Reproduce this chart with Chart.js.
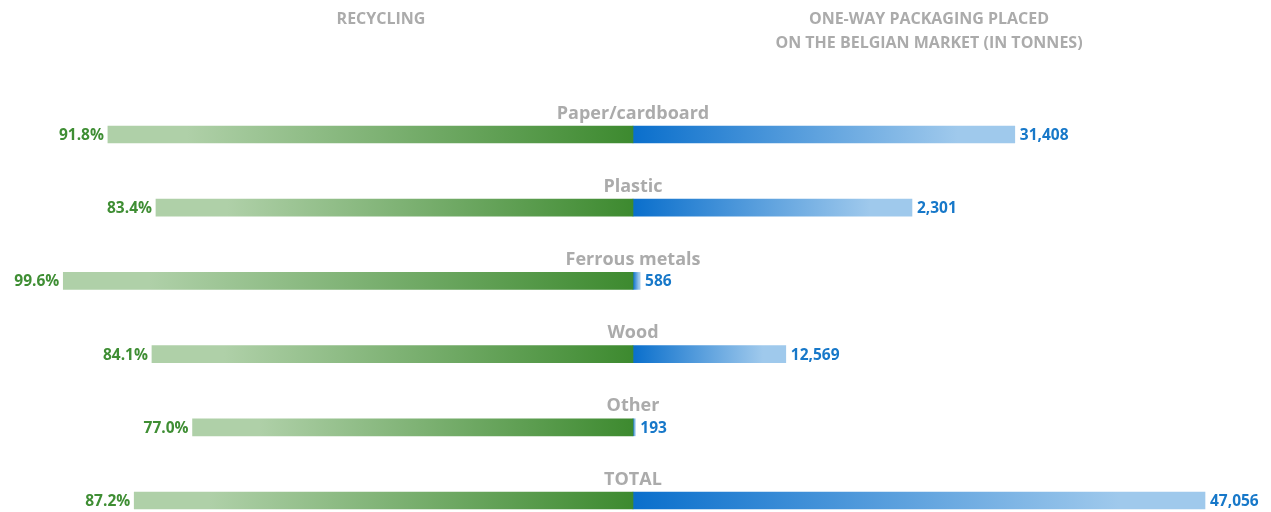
<!DOCTYPE html>
<html>
<head>
<meta charset="utf-8">
<script src="https://cdn.jsdelivr.net/npm/chart.js@4"></script>
<style>
  html, body { margin: 0; padding: 0; background: #ffffff; }
  #wrap { position: relative; width: 1271px; height: 512px; }
</style>
</head>
<body>
<div id="wrap"><canvas id="packagingChart" width="1271" height="512"></canvas></div>
<script>
// Chart data
const categories = ['Paper/cardboard', 'Plastic', 'Ferrous metals', 'Wood', 'Other', 'TOTAL'];
const recyclingPct = [91.8, 83.4, 99.6, 84.1, 77.0, 87.2];
// tonnes as printed next to the bars
const tonnesLabel = [31408, 2301, 586, 12569, 193, 47056];
// tonnes as the bars are drawn (plastic bar is drawn much longer than its label in the source)
const tonnesBar = [31408, 22950, 586, 12569, 193, 47056];
const tonnesMax = 47056;

const GREEN_DARK = '#3d8a2f', GREEN_LIGHT = '#afd0a8', GREEN_TEXT = '#3f8e34';
const BLUE_DARK = '#0a6fcc', BLUE_LIGHT = '#9fc9ec', BLUE_TEXT = '#1778c9';
const GREY = '#ababab';
const FONT = '"Open Sans", Lato, sans-serif';

function barGradient(ctx, axisId, dark, light) {
    const chart = ctx.chart;
    if (!chart.chartArea || ctx.raw === undefined) return dark;
    const scale = chart.scales[axisId];
    const x0 = scale.getPixelForValue(0);
    const x1 = scale.getPixelForValue(ctx.raw);
    if (Math.abs(x1 - x0) < 1) return dark;
    const g = chart.ctx.createLinearGradient(x0, 0, x1, 0);
    g.addColorStop(0, dark);
    g.addColorStop(0.85, light);
    g.addColorStop(1, light);
    return g;
}

const labelPlugin = {
    id: 'butterflyLabels',
    afterDatasetsDraw(chart) {
        const c = chart.ctx;
        const left = chart.getDatasetMeta(0).data;
        const right = chart.getDatasetMeta(1).data;
        const mid = chart.scales.xl.getPixelForValue(0);
        c.save();
        c.textBaseline = 'middle';
        categories.forEach((cat, i) => {
            const y = left[i].y;
            c.font = 'bold 18px ' + FONT;
            c.fillStyle = GREY;
            c.textAlign = 'center';
            c.fillText(cat, mid, y - 21);

            c.font = 'bold 15.5px ' + FONT;
            c.fillStyle = GREEN_TEXT;
            c.textAlign = 'right';
            c.fillText(recyclingPct[i].toFixed(1) + '%', left[i].x - 4, y + 1);

            c.fillStyle = BLUE_TEXT;
            c.textAlign = 'left';
            c.fillText(tonnesLabel[i].toLocaleString('en-US'), right[i].x + 5, y + 1);
        });
        // column headers
        c.font = 'bold 16px ' + FONT;
        c.fillStyle = GREY;
        c.textAlign = 'center';
        c.fillText('RECYCLING', 381, 19);
        c.fillText('ONE-WAY PACKAGING PLACED', 929, 19);
        c.fillText('ON THE BELGIAN MARKET (IN TONNES)', 929, 43);
        c.restore();
    }
};

new Chart(document.getElementById('packagingChart').getContext('2d'), {
    type: 'bar',
    data: {
        labels: categories,
        datasets: [
            {
                label: 'Recycling',
                data: recyclingPct.map(v => -v),
                xAxisID: 'xl',
                backgroundColor: ctx => barGradient(ctx, 'xl', GREEN_DARK, GREEN_LIGHT),
                barThickness: 17,
                grouped: false,
                clip: false
            },
            {
                label: 'Tonnes',
                data: tonnesBar,
                xAxisID: 'xr',
                backgroundColor: ctx => barGradient(ctx, 'xr', BLUE_DARK, BLUE_LIGHT),
                barThickness: 17,
                grouped: false,
                clip: false
            }
        ]
    },
    options: {
        indexAxis: 'y',
        responsive: false,
        animation: false,
        layout: { padding: { top: 134.5, bottom: 11.5, left: 61, right: 66 } },
        scales: {
            y: { type: 'category', offset: false, display: false },
            xl: { type: 'linear', min: -100, max: 100, display: false },
            xr: { type: 'linear', min: -tonnesMax, max: tonnesMax, display: false }
        },
        plugins: {
            legend: { display: false },
            tooltip: { enabled: false }
        }
    },
    plugins: [labelPlugin]
});
</script>
</body>
</html>
